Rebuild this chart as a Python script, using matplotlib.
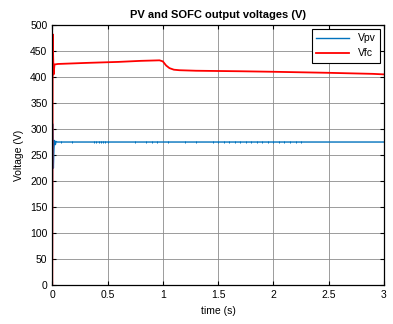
"""PV and SOFC output voltages, recreated from the reference figure."""

import matplotlib
matplotlib.use("Agg")
import matplotlib.pyplot as plt

plt.rcParams["font.family"] = ["Liberation Sans", "DejaVu Sans"]

# Vpv trace (s, V)
t_pv = [0.0, 0.003, 0.006, 0.010, 0.015, 0.020, 0.028, 0.035, 0.045, 3.0]
v_pv = [0.0, 310.0, 260.0, 225.0, 262.0, 278.0, 270.0, 276.0, 275.0, 275.0]

# Vfc trace (s, V)
t_fc = [0.0, 0.004, 0.008, 0.012, 0.020, 0.05, 0.3, 0.6, 0.8, 0.97,
        1.0, 1.03, 1.06, 1.10, 1.15, 1.3, 1.7, 2.0, 2.5, 2.9, 3.0]
v_fc = [0.0, 482.0, 440.0, 405.0, 424.0, 425.0, 427.0, 429.0, 431.0, 432.0,
        430.0, 422.0, 417.0, 414.0, 413.0, 412.0, 411.0, 410.0, 408.0, 406.0, 405.0]

# small switching ripple visible on the PV trace
t_pv_ripple = [0.08, 0.18, 0.38, 0.40, 0.42, 0.44, 0.46, 0.48, 0.50, 0.75, 0.85,
               0.90, 0.95, 1.05, 1.2, 1.3, 1.45, 1.5, 1.55, 1.6, 1.65, 1.7, 1.75,
               1.8, 1.85, 1.9, 1.95, 2.0, 2.05, 2.1, 2.15, 2.2, 2.25]
v_pv_ripple = [275.0] * len(t_pv_ripple)

fig, ax = plt.subplots(figsize=(3.93, 3.24), dpi=100)
fig.subplots_adjust(left=0.133, right=0.977, top=0.923, bottom=0.12)

ax.plot(t_pv, v_pv, color="#0072BD", linewidth=1.0, label="Vpv")
ax.plot(t_fc, v_fc, color="red", linewidth=1.3, label="Vfc")
ax.plot(t_pv_ripple, v_pv_ripple, linestyle="none", marker="|",
        color="#0072BD", markersize=1.5, markeredgewidth=0.7)

ax.set_xlim(0, 3)
ax.set_ylim(0, 500)
ax.set_xticks([0, 0.5, 1, 1.5, 2, 2.5, 3])
ax.set_xticklabels(["0", "0.5", "1", "1.5", "2", "2.5", "3"])
ax.set_yticks(range(0, 501, 50))
ax.tick_params(direction="in", labelsize=7.5, length=3, top=True, right=True)
ax.grid(True, color="#8c8c8c", linewidth=0.6)
for side in ax.spines.values():
    side.set_linewidth(0.9)

ax.set_title("PV and SOFC output voltages (V)", fontsize=8, fontweight="bold", pad=5)
ax.set_xlabel("time (s)", fontsize=7.5)
ax.set_ylabel("Voltage (V)", fontsize=7.5)

leg = ax.legend(loc="upper right", fontsize=7.5, fancybox=False, framealpha=1,
                edgecolor="black", borderaxespad=0.4, handlelength=3.2,
                markerfirst=True)
leg.get_frame().set_linewidth(0.8)

fig.savefig("out.png", dpi=100)
plt.close(fig)
